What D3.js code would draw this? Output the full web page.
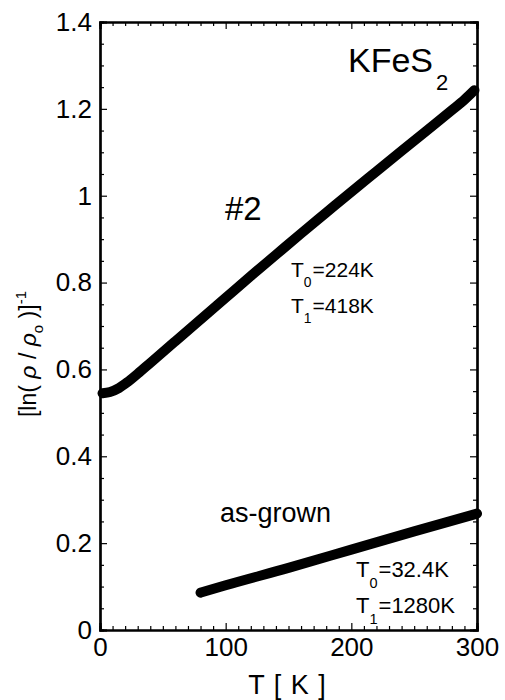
<!DOCTYPE html>
<html>
<head>
<meta charset="utf-8">
<script src="https://cdn.jsdelivr.net/npm/d3@7"></script>
<style>
  body { margin: 0; background: #fff; }
  svg text { font-family: "Liberation Sans", Arial, sans-serif; fill: #000; }
</style>
</head>
<body>
<div id="app"></div>
<script>
`use strict`;

// sample #2
const T2 = [2, 8, 15, 22, 30, 40, 60, 80, 100, 120, 140, 160, 180, 200, 220, 240, 260, 280, 290, 298];
const R2 = [0.545, 0.548, 0.557, 0.571, 0.59, 0.615, 0.665, 0.715, 0.765, 0.815, 0.864, 0.913, 0.961, 1.009, 1.056, 1.103, 1.15, 1.197, 1.221, 1.243];

// as-grown
const TA = [80, 100, 150, 200, 250, 300];
const RA = [0.086, 0.103, 0.143, 0.185, 0.227, 0.268];

const xTicks = [0, 100, 200, 300];
const yTicks = [0, 0.2, 0.4, 0.6, 0.8, 1, 1.2, 1.4];

const W = 505, H = 700;
const M = {left: 100, right: 28, top: 22, bottom: 70};

const svg = d3.select(`#app`).append(`svg`).attr(`width`, W).attr(`height`, H);

const x = d3.scaleLinear().domain([0, 300]).range([M.left, W - M.right]);
const y = d3.scaleLinear().domain([0, 1.4]).range([H - M.bottom, M.top]);

const xMinor = d3.range(0, 301, 10).filter(d => xTicks.indexOf(d) < 0);
const yMinor = d3.range(0, 29).map(i => +(i * 0.05).toFixed(2)).filter(d => yTicks.indexOf(d) < 0);

const fmt = d => `${+d.toFixed(2)}`;

// bottom
svg.append(`g`).attr(`transform`, `translate(0,${y(0)})`)
  .call(d3.axisBottom(x).tickValues(xTicks).tickSize(-7).tickPadding(8).tickFormat(fmt))
  .call(g => g.selectAll(`text`).style(`font-size`, `26px`));
svg.append(`g`).attr(`transform`, `translate(0,${y(0)})`)
  .call(d3.axisBottom(x).tickValues(xMinor).tickSize(-4).tickFormat(``));

// top
svg.append(`g`).attr(`transform`, `translate(0,${y(1.4)})`)
  .call(d3.axisTop(x).tickValues(xTicks).tickSize(-7).tickFormat(``));
svg.append(`g`).attr(`transform`, `translate(0,${y(1.4)})`)
  .call(d3.axisTop(x).tickValues(xMinor).tickSize(-4).tickFormat(``));

// left
svg.append(`g`).attr(`transform`, `translate(${x(0)},0)`)
  .call(d3.axisLeft(y).tickValues(yTicks).tickSize(-7).tickPadding(8).tickFormat(fmt))
  .call(g => g.selectAll(`text`).style(`font-size`, `26px`));
svg.append(`g`).attr(`transform`, `translate(${x(0)},0)`)
  .call(d3.axisLeft(y).tickValues(yMinor).tickSize(-4).tickFormat(``));

// right
svg.append(`g`).attr(`transform`, `translate(${x(300)},0)`)
  .call(d3.axisRight(y).tickValues(yTicks).tickSize(-7).tickFormat(``));
svg.append(`g`).attr(`transform`, `translate(${x(300)},0)`)
  .call(d3.axisRight(y).tickValues(yMinor).tickSize(-4).tickFormat(``));

svg.selectAll(`.domain`).attr(`stroke-width`, 2.2);
svg.selectAll(`.tick line`).attr(`stroke-width`, 1.2);

// curves
const line = d3.line().x(d => x(d[0])).y(d => y(d[1])).curve(d3.curveMonotoneX);

svg.append(`path`).datum(T2.map((t, i) => [t, R2[i]]))
  .attr(`d`, line).attr(`fill`, `none`).attr(`stroke`, `#000`)
  .attr(`stroke-width`, 10).attr(`stroke-linecap`, `round`).attr(`stroke-linejoin`, `round`);

svg.append(`path`).datum(TA.map((t, i) => [t, RA[i]]))
  .attr(`d`, line).attr(`fill`, `none`).attr(`stroke`, `#000`)
  .attr(`stroke-width`, 10).attr(`stroke-linecap`, `round`).attr(`stroke-linejoin`, `round`);

// labels
const sub = (sel, X, Y, main, s, rest, fs) => {
  let t = sel.append(`text`).attr(`x`, X).attr(`y`, Y).style(`font-size`, `${fs}px`);
  t.append(`tspan`).text(main);
  t.append(`tspan`).attr(`dy`, fs * 0.48).style(`font-size`, `${fs * 0.66}px`).text(s);
  t.append(`tspan`).attr(`dy`, -fs * 0.48).attr(`dx`, 1).text(rest);
  return t;
};

sub(svg, 348, 72, `KFeS`, `2`, ``, 34).select(`tspan:nth-child(2)`).attr(`dx`, 3).attr(`dy`, 18).style(`font-size`, `22px`);

svg.append(`text`).attr(`x`, 225).attr(`y`, 220).style(`font-size`, `33px`).text(`#2`);

sub(svg, 291, 277, `T`, `0`, `=224K`, 21);
sub(svg, 291, 313, `T`, `1`, `=418K`, 21);

svg.append(`text`).attr(`x`, 220).attr(`y`, 522).style(`font-size`, `27px`).text(`as-grown`);

sub(svg, 356, 577, `T`, `0`, `=32.4K`, 22);
sub(svg, 356, 613, `T`, `1`, `=1280K`, 22);

svg.append(`text`).attr(`x`, 287).attr(`y`, 694).attr(`text-anchor`, `middle`)
  .style(`font-size`, `27px`).style(`word-spacing`, `2px`).text(`T [ K ]`);

let yl = svg.append(`text`).attr(`transform`, `translate(36,354) rotate(-90)`)
  .attr(`text-anchor`, `middle`).style(`font-size`, `23px`);
yl.append(`tspan`).text(`[ln( `);
yl.append(`tspan`).style(`font-style`, `italic`).text(`ρ`);
yl.append(`tspan`).text(` / `);
yl.append(`tspan`).style(`font-style`, `italic`).text(`ρ`);
yl.append(`tspan`).attr(`dy`, 7).style(`font-size`, `15px`).text(`o`);
yl.append(`tspan`).attr(`dy`, -7).text(` )]`);
yl.append(`tspan`).attr(`dy`, -10).style(`font-size`, `15px`).text(`-1`);
</script>
</body>
</html>
